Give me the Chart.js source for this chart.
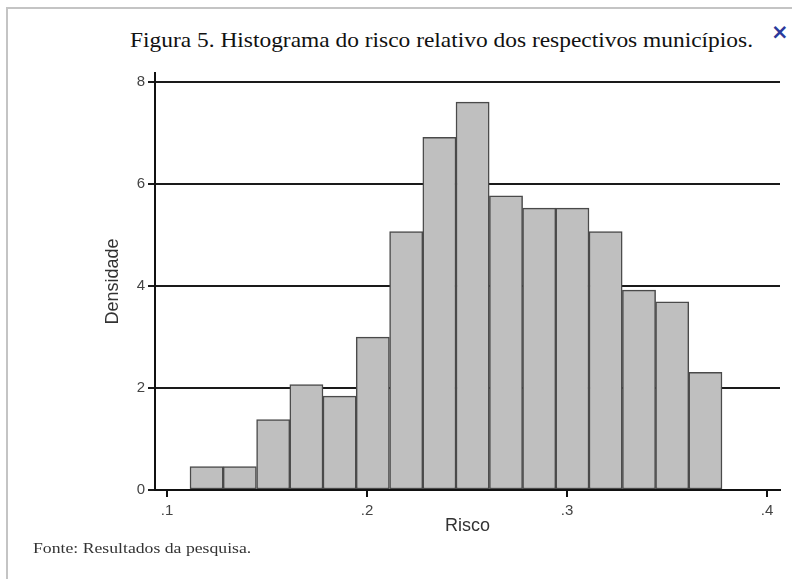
<!DOCTYPE html>
<html>
<head>
<meta charset="utf-8">
<script src="https://cdn.jsdelivr.net/npm/chart.js@4.4.0/dist/chart.umd.min.js"></script>
<style>
  body { margin: 0; background: #fff; }
  #wrap { position: relative; width: 792px; height: 579px; overflow: hidden; }
  #frame { position: absolute; left: 6px; top: 7px; width: 820px; height: 620px; border: 2px solid #c4c4c4; }
  #title { position: absolute; left: 130px; top: 29px; font: 21px "Liberation Serif", serif; color: #111; white-space: nowrap; line-height: 22px; transform: scaleX(1.115); transform-origin: 0 0; }
  #close { position: absolute; left: 771px; top: 20px; font: bold 21px "DejaVu Sans", sans-serif; color: #2b3a9b; line-height: 24px; }
  #source { position: absolute; left: 33px; top: 540px; font: 15px "Liberation Serif", serif; color: #333; white-space: nowrap; line-height: 16px; transform: scaleX(1.18); transform-origin: 0 0; }
  canvas { position: absolute; left: 0; top: 0; }
</style>
</head>
<body>
<div id="wrap">
  <div id="frame"></div>
  <div id="title">Figura 5. Histograma do risco relativo dos respectivos municípios.</div>
  <div id="close">×</div>
  <canvas id="chart" width="792" height="579"></canvas>
  <div id="source">Fonte: Resultados da pesquisa.</div>
</div>
<script>
// bin centres (risco) and histogram density
const binCenters = [0.1198, 0.1364, 0.1531, 0.1697, 0.1863, 0.2029, 0.2196, 0.2362,
                    0.2528, 0.2695, 0.2861, 0.3027, 0.3193, 0.3360, 0.3526, 0.3692]
const density = [0.46, 0.46, 1.38, 2.07, 1.84, 3.0, 5.07, 6.92,
                 7.61, 5.77, 5.53, 5.53, 5.07, 3.92, 3.69, 2.31]

const xTicks = [0.1, 0.2, 0.3, 0.4]
const xTickLabels = ['.1', '.2', '.3', '.4']
const yTicks = [0, 2, 4, 6, 8]

const points = binCenters.map((x, i) => ({ x: x, y: density[i] }))

new Chart(document.getElementById('chart'), {
  type: 'bar',
  data: {
    datasets: [{
      data: points,
      backgroundColor: '#bfbfbf',
      borderColor: '#4a4a4a',
      borderWidth: 1.5,
      borderSkipped: false,
      barPercentage: 1,
      categoryPercentage: 1
    }]
  },
  options: {
    responsive: false,
    animation: false,
    events: [],
    layout: { padding: { left: 90, top: 73, right: 12, bottom: 39 } },
    plugins: { legend: { display: false }, tooltip: { enabled: false } },
    scales: {
      x: {
        type: 'linear',
        min: 0.094,
        max: 0.4065,
        offset: false,
        afterBuildTicks: scale => { scale.ticks = xTicks.map(v => ({ value: v })) },
        afterFit: scale => { scale.height = 50 },
        grid: { offset: false, drawOnChartArea: false, drawTicks: true, tickLength: 7, color: '#111', lineWidth: 2 },
        border: { display: true, color: '#111', width: 2 },
        ticks: {
          padding: 5,
          color: '#444',
          font: { family: 'Liberation Sans, Arial, sans-serif', size: 15 },
          callback: (v, i) => xTickLabels[i]
        },
        title: {
          display: true,
          text: 'Risco',
          color: '#333',
          font: { family: 'Liberation Sans, Arial, sans-serif', size: 18, lineHeight: 1.2 },
          padding: { top: 0, bottom: 3 }
        }
      },
      y: {
        min: 0,
        max: 8.18,
        afterBuildTicks: scale => { scale.ticks = yTicks.map(v => ({ value: v })) },
        afterFit: scale => { scale.width = 65 },
        grid: { color: '#1a1a1a', lineWidth: 2, tickLength: 7 },
        border: { display: true, color: '#111', width: 2 },
        ticks: {
          padding: 3,
          color: '#444',
          font: { family: 'Liberation Sans, Arial, sans-serif', size: 15 }
        },
        title: {
          display: true,
          text: 'Densidade',
          color: '#333',
          font: { family: 'Liberation Sans, Arial, sans-serif', size: 18, lineHeight: 1.2 },
          padding: { top: 12, bottom: 0 }
        }
      }
    }
  }
})
</script>
</body>
</html>
